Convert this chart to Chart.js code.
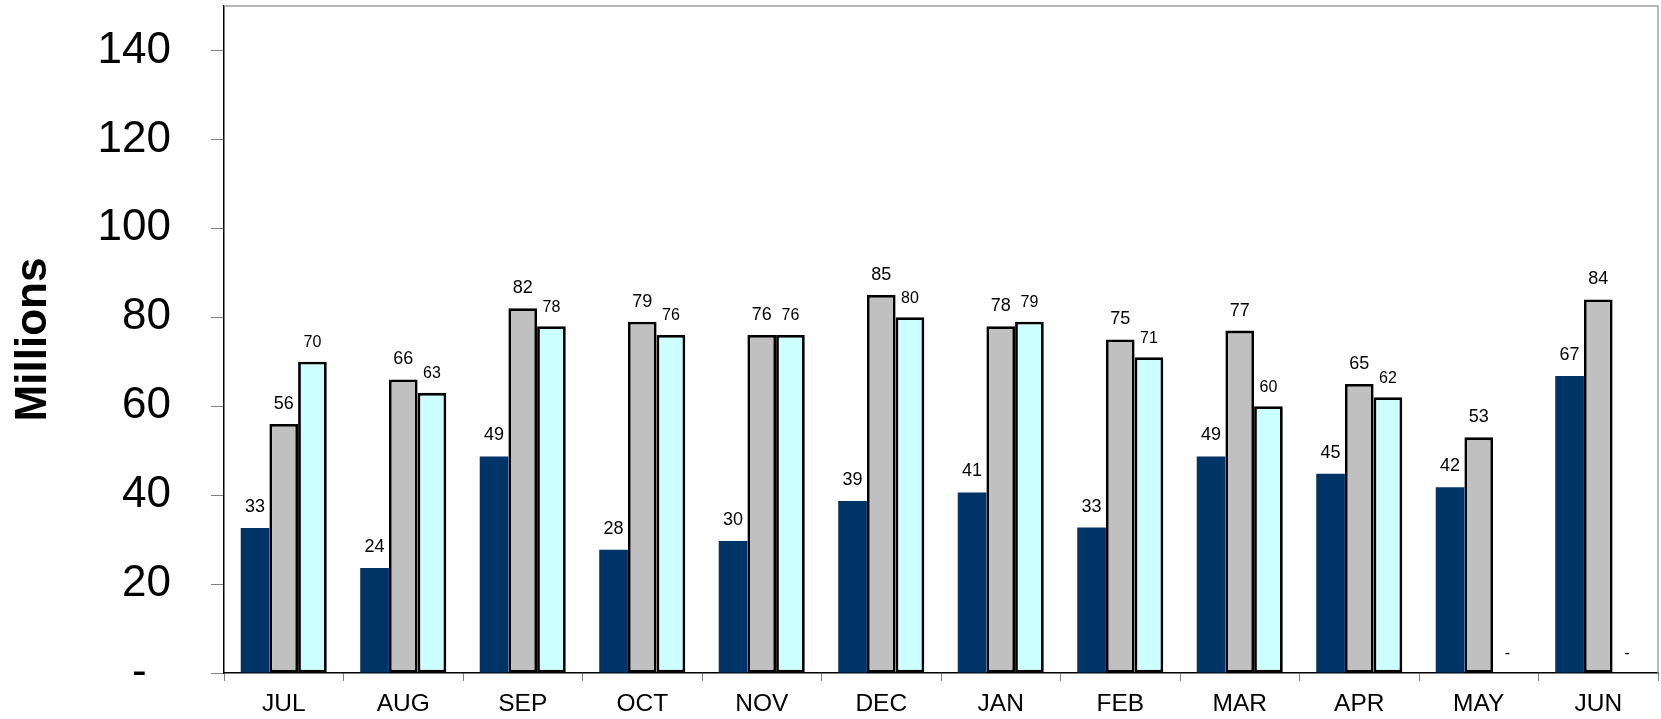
<!DOCTYPE html>
<html>
<head>
<meta charset="utf-8">
<script src="https://cdn.jsdelivr.net/npm/chart.js@4/dist/chart.umd.min.js"></script>
<style>
  html, body { margin: 0; padding: 0; background: #ffffff; }
  #wrap { width: 1661px; height: 719px; }
</style>
</head>
<body>
<div id="wrap"><canvas id="monthChart" width="1661" height="719"></canvas></div>
<script>
// values (millions)
var months = ["JUL", "AUG", "SEP", "OCT", "NOV", "DEC", "JAN", "FEB", "MAR", "APR", "MAY", "JUN"];
var seriesNavy = [32.6, 23.6, 48.7, 27.7, 29.7, 38.7, 40.6, 32.7, 48.7, 44.8, 41.8, 66.8];
var seriesGray = [56, 66, 82, 79, 76, 85, 78, 75, 77, 65, 53, 84];
var seriesCyan = [70, 63, 78, 76, 76, 80, 79, 71, 60, 62, 0, 0];
var yTickValues = [0, 20, 40, 60, 80, 100, 120, 140];

var FONT = "'Liberation Sans', Arial, Helvetica, sans-serif";

// number labels above each bar, "-" for zero like the excel format
var barLabels = {
  id: "barLabels",
  afterDatasetsDraw: function(chart) {
    var ctx = chart.ctx;
    var yScale = chart.scales.y;
    ctx.save();
    ctx.fillStyle = "#000000";
    ctx.textAlign = "center";
    ctx.textBaseline = "middle";
    chart.data.datasets.forEach(function(ds, i) {
      var meta = chart.getDatasetMeta(i);
      ctx.font = ds.labelSize + "px " + FONT;
      meta.data.forEach(function(bar, j) {
        var v = ds.data[j];
        var txt = v === 0 ? "-" : String(Math.round(v));
        ctx.fillText(txt, bar.x, yScale.getPixelForValue(v) - ds.labelGap);
      });
    });
    ctx.restore();
  }
};

// thin grey frame round the plot area (axes paint the left / bottom edges)
var plotFrame = {
  id: "plotFrame",
  beforeDatasetsDraw: function(chart) {
    var a = chart.chartArea;
    var ctx = chart.ctx;
    ctx.save();
    ctx.strokeStyle = "#a0a0a0";
    ctx.lineWidth = 1.5;
    ctx.beginPath();
    ctx.moveTo(a.left, a.top);
    ctx.lineTo(a.right, a.top);
    ctx.lineTo(a.right, a.bottom);
    ctx.stroke();
    ctx.restore();
  }
};

new Chart(document.getElementById("monthChart"), {
  type: "bar",
  data: {
    labels: months,
    datasets: [{
      label: "Series 1",
      data: seriesNavy,
      backgroundColor: "#003366",
      borderWidth: 0,
      labelSize: 18,
      labelGap: 21
    }, {
      label: "Series 2",
      data: seriesGray,
      backgroundColor: "#c0c0c0",
      borderColor: "#000000",
      borderWidth: 2.8,
      borderSkipped: false,
      labelSize: 18,
      labelGap: 20
    }, {
      label: "Series 3",
      data: seriesCyan,
      backgroundColor: "#ccffff",
      borderColor: "#000000",
      borderWidth: 2.8,
      borderSkipped: false,
      labelSize: 16,
      labelGap: 19
    }]
  },
  options: {
    responsive: false,
    maintainAspectRatio: false,
    animation: false,
    devicePixelRatio: 1,
    categoryPercentage: 0.72,
    barPercentage: 1.0,
    layout: {
      padding: { top: 6, right: 3, left: 0, bottom: 0 }
    },
    plugins: {
      legend: { display: false },
      tooltip: { enabled: false }
    },
    scales: {
      x: {
        offset: true,
        grid: {
          display: true,
          drawOnChartArea: false,
          drawTicks: true,
          tickLength: 8,
          color: "#808080"
        },
        border: { display: true, color: "#000000", width: 1.5 },
        ticks: {
          color: "#000000",
          padding: 9,
          font: { family: FONT, size: 24.5 }
        },
        afterFit: function(scale) {
          scale.height = 46;
          scale.paddingLeft = 0;
          scale.paddingRight = 0;
        }
      },
      y: {
        min: 0,
        max: 150,
        grid: {
          display: true,
          drawOnChartArea: false,
          drawTicks: true,
          tickLength: 13,
          color: "#808080"
        },
        border: { display: true, color: "#000000", width: 1.5 },
        afterBuildTicks: function(scale) {
          scale.ticks = yTickValues.map(function(v) { return { value: v }; });
        },
        ticks: {
          color: "#000000",
          padding: 40,
          font: { family: FONT, size: 44 },
          callback: function(v) { return v === 0 ? "-\u00a0\u00a0" : String(v); }
        },
        title: {
          display: true,
          text: "Millions",
          color: "#000000",
          padding: { top: 7, bottom: 0 },
          font: { family: FONT, size: 44, weight: "bold" }
        },
        afterFit: function(scale) {
          scale.width = 224;
          scale.paddingTop = 0;
          scale.paddingBottom = 0;
        }
      }
    }
  },
  plugins: [barLabels, plotFrame]
});
</script>
</body>
</html>
